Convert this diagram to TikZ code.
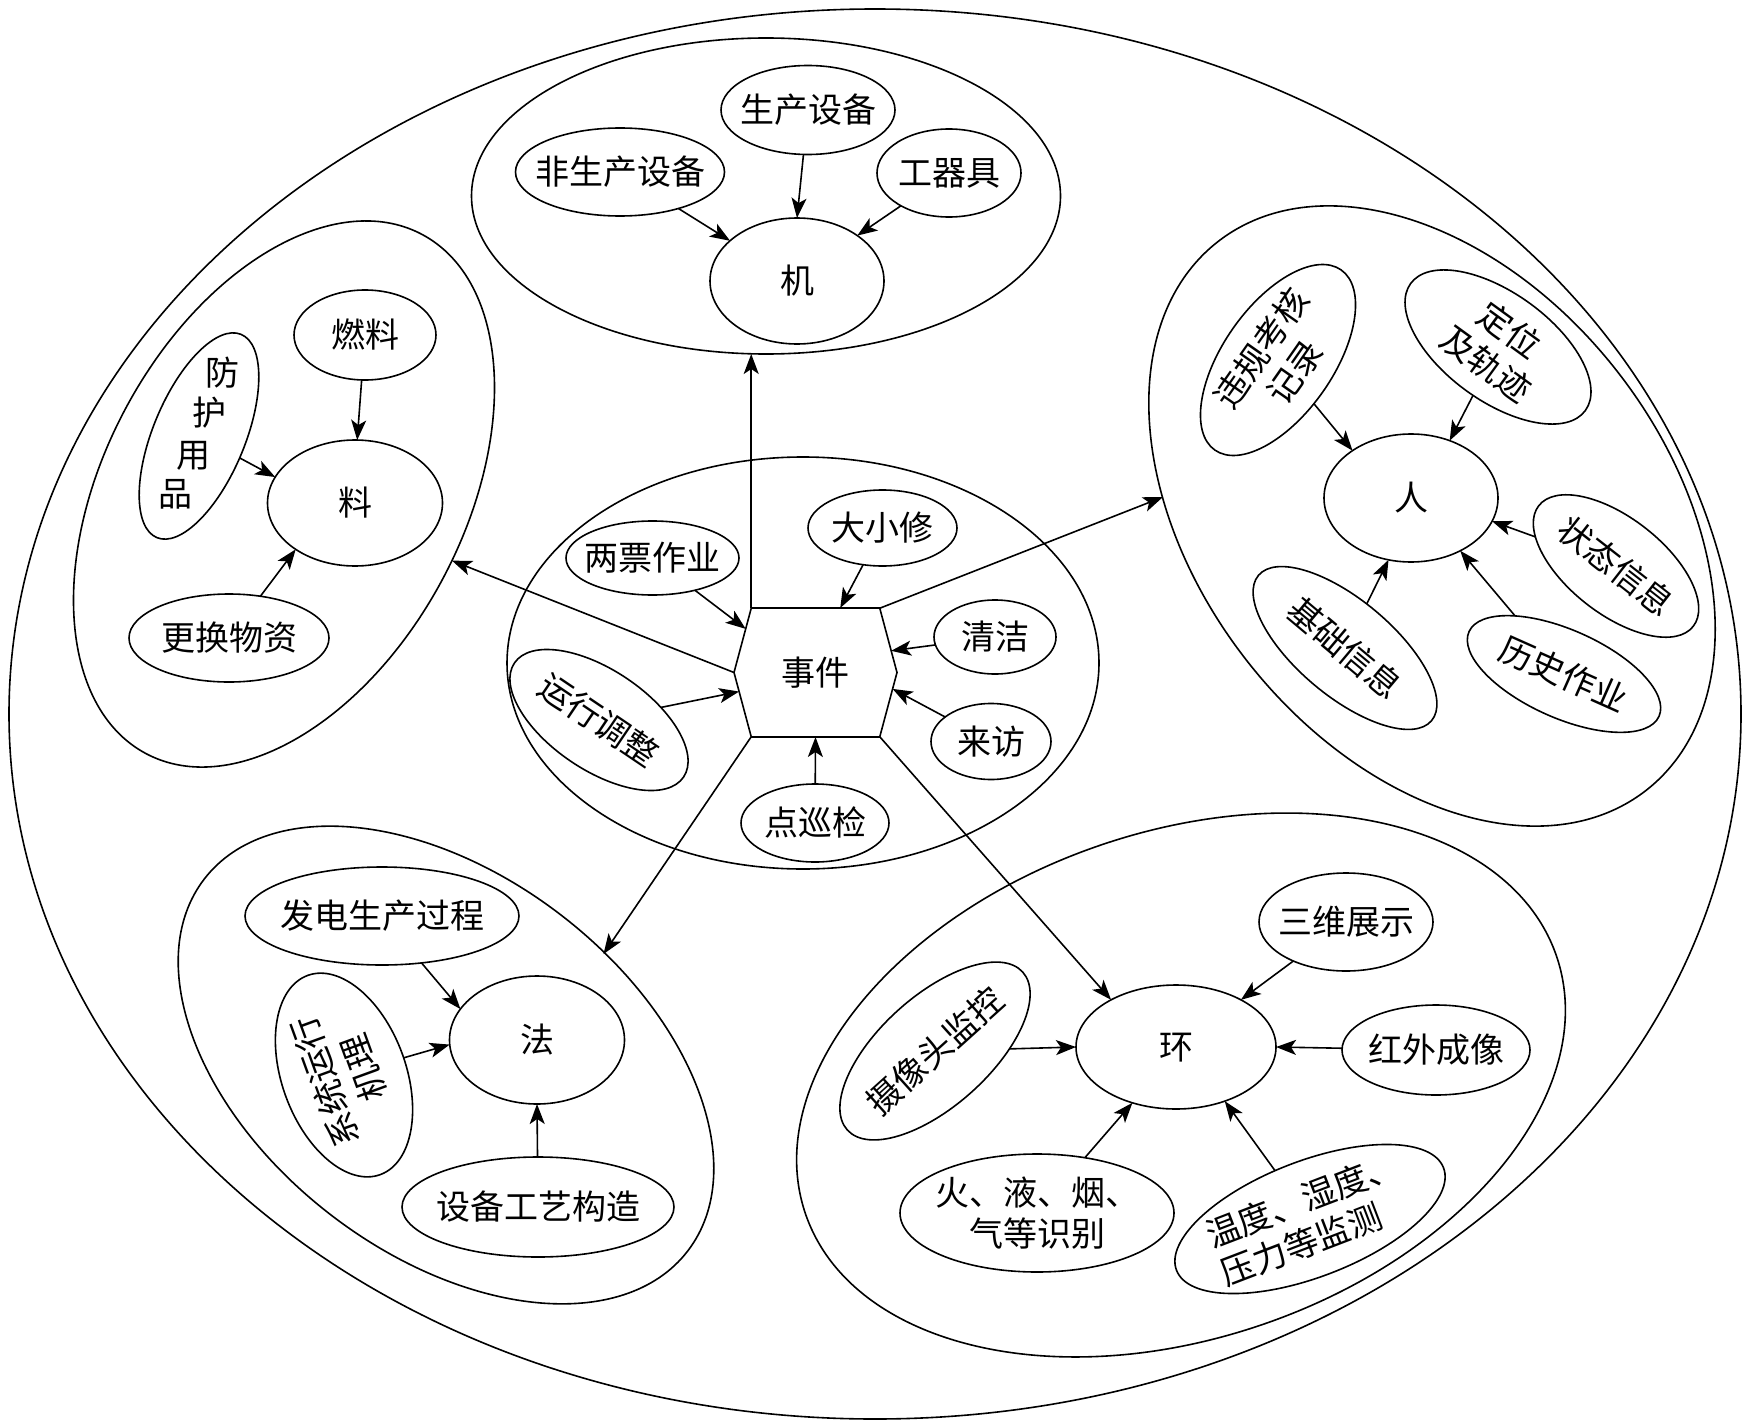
\documentclass[tikz,border=0pt]{standalone}
\usepackage{fontspec}
\setmainfont{Noto Sans CJK SC}
\usetikzlibrary{shapes.geometric,shapes.symbols,arrows.meta,calc}
\newcommand\lbl[1]{\makebox[0pt]{\raisebox{-12.9pt}[0pt][0pt]{#1}}}
\newcommand\lbltwo[2]{\makebox[0pt]{\raisebox{7.6pt}[0pt][0pt]{\begin{tabular}[t]{@{}c@{}}#1\\#2\end{tabular}}}}
\newcommand\lbltwoL[2]{\makebox[0pt]{\raisebox{7.6pt}[0pt][0pt]{\begin{tabular}[t]{@{}l@{}}#1\\#2\end{tabular}}}}
\begin{document}
\begin{tikzpicture}[x=1pt,y=-1pt, line width=1.6pt,
  every node/.style={font=\fontsize{34}{41}\selectfont},
  oval/.style={draw, ellipse, inner sep=0pt, outer sep=0pt},
  arr/.style={-{Stealth[length=20pt,width=15pt,inset=5pt]}},
]
\useasboundingbox[fill=white] (0,0) rectangle (1746,1426);

% outer boundary
\node[oval, minimum width=1732, minimum height=1410] (outer) at (875,714) {};

% groups
\node[oval, minimum width=589, minimum height=316] (jiG) at (766,196) {};
\node[oval, minimum width=588, minimum height=360, rotate=62] (liaoG) at (284,494) {};
\node[oval, minimum width=696, minimum height=470, rotate=-52] (renG) at (1432,516) {};
\node[oval, minimum width=610, minimum height=378, rotate=-37.6] (faG) at (446,1065) {};
\node[oval, minimum width=794, minimum height=506, rotate=19] (huanG) at (1181,1085) {};
\node[oval, minimum width=592, minimum height=412] (evG) at (803,663) {};

% 机
\node[oval, minimum width=174, minimum height=126] (ji) at (797,281) {\lbl{机}};
\node[oval, minimum width=174, minimum height=89] (scsb) at (808,110) {\lbl{生产设备}};
\node[oval, minimum width=209, minimum height=88] (fscsb) at (620,172) {\lbl{非生产设备}};
\node[oval, minimum width=144, minimum height=88] (gqj) at (949,173) {\lbl{工器具}};

% 料
\node[oval, minimum width=175, minimum height=126] (liao) at (355,503) {\lbl{料}};
\node[oval, minimum width=142, minimum height=90] (rl) at (365,335) {\lbl{燃料}};
\node[oval, minimum width=200, minimum height=88] (ghwz) at (229,638) {\lbl{更换物资}};
\node[oval, minimum width=220, minimum height=92, rotate=67.5] (fhyp) at (199,436) {};
\node (fh1) at (222,373) {\lbl{防}};
\node (fh2) at (209,413) {\lbl{护}};
\node (fh3) at (193,455) {\lbl{用}};
\node (fh4) at (175,494) {\lbl{品}};

% 人
\node[oval, minimum width=174, minimum height=128] (ren) at (1411,498) {\lbl{人}};
\node[oval, minimum width=220, minimum height=110, rotate=55] (wgkh) at (1278,360) {\lbltwo{违规考核}{记录}};
\node[oval, minimum width=216, minimum height=108, rotate=-36] (dw) at (1498,347) {\lbltwo{定位}{及轨迹}};
\node[oval, minimum width=196, minimum height=96, rotate=-38] (ztxx) at (1616,566) {\lbl{状态信息}};
\node[oval, minimum width=208, minimum height=88, rotate=-24] (lszy) at (1564,674) {\lbl{历史作业}};
\node[oval, minimum width=226, minimum height=96, rotate=-40] (jcxx) at (1345,648) {\lbl{基础信息}};

% 法
\node[oval, minimum width=175, minimum height=128] (fa) at (537,1040) {\lbl{法}};
\node[oval, minimum width=274, minimum height=98] (fdsc) at (382,916) {\lbl{发电生产过程}};
\node[oval, minimum width=212, minimum height=124, rotate=110] (xtyx) at (344,1075) {\lbltwo{系统运行}{机理}};
\node[oval, minimum width=272, minimum height=100] (sbgy) at (538,1207) {\lbl{设备工艺构造}};

% 环
\node[oval, minimum width=200, minimum height=124] (huan) at (1176,1047) {\lbl{环}};
\node[oval, minimum width=174, minimum height=98] (swzs) at (1346,922) {\lbl{三维展示}};
\node[oval, minimum width=188, minimum height=90] (hwcx) at (1436,1050) {\lbl{红外成像}};
\node[oval, minimum width=236, minimum height=110, rotate=42] (sxt) at (935,1051) {\lbl{摄像头监控}};
\node[oval, minimum width=274, minimum height=118] (hyy) at (1037,1213) {\lbltwo{火、液、烟、}{气等识别}};
\node[oval, minimum width=286, minimum height=116, rotate=21] (wd) at (1310,1219) {\lbltwoL{温度、湿度、}{压力等监测}};

% 事件
\node[draw, signal, signal to=west and east, signal pointer angle=150, minimum width=163, minimum height=129, inner sep=0pt, outer sep=0pt] (ev) at (815.5,672.5) {\lbl{事件}};
\node[oval, minimum width=173, minimum height=74] (lpzy) at (652.5,558) {\lbl{两票作业}};
\node[oval, minimum width=149, minimum height=76] (dxx) at (882.5,528) {\lbl{大小修}};
\node[oval, minimum width=122, minimum height=74] (qj) at (995,637) {\lbl{清洁}};
\node[oval, minimum width=120, minimum height=76] (lf) at (991,741.5) {\lbl{来访}};
\node[oval, minimum width=148, minimum height=78] (dxj) at (815,823) {\lbl{点巡检}};
\node[oval, minimum width=204, minimum height=100, rotate=-34] (yxtz) at (599,720) {\lbl{运行调整}};

% arrows inside groups
\draw[arr] (fscsb) -- (ji.149);
\draw[arr] (scsb) -- (ji.90);
\draw[arr] (gqj) -- (ji.37);
\draw[arr] (rl) -- (liao.88);
\draw[arr] (fhyp) -- (liao.162);
\draw[arr] (ghwz) -- (liao.-142);
\draw[arr] (wgkh) -- (ren.141);
\draw[arr] (dw) -- (ren.56);
\draw[arr] (ztxx) -- (ren.-16);
\draw[arr] (lszy) -- (ren.-47);
\draw[arr] (jcxx) -- (ren.-110);
\draw[arr] (fdsc) -- (fa.158);
\draw[arr] (xtyx) -- (fa.183);
\draw[arr] (sbgy) -- (fa.-90);
\draw[arr] (swzs) -- (huan.36);
\draw[arr] (hwcx) -- (huan.0);
\draw[arr] (sxt) -- (huan.180);
\draw[arr] (hyy) -- (huan.-128);
\draw[arr] (wd) -- (huan.-48);
\draw[arr] (lpzy) -- (ev.148);
\draw[arr] (dxx) -- (ev.69);
\draw[arr] (qj) -- (ev.16);
\draw[arr] (lf) -- (ev.-12);
\draw[arr] (dxj) -- (ev.-90);
\draw[arr] (yxtz) -- (ev.194);

% arrows from the event hub to the groups
\coordinate (renIn) at (1163,497);
\coordinate (faIn) at (603.5,954);
\draw[arr] (ev.135) -- (ev.135 |- jiG.south);
\draw[arr] (ev.180) -- (liaoG);
\draw[arr] (ev.45) -- (renIn);
\draw[arr] (ev.-135) -- (faIn);
\draw[arr] (ev.-45) -- (huan.144);
\end{tikzpicture}
\end{document}
